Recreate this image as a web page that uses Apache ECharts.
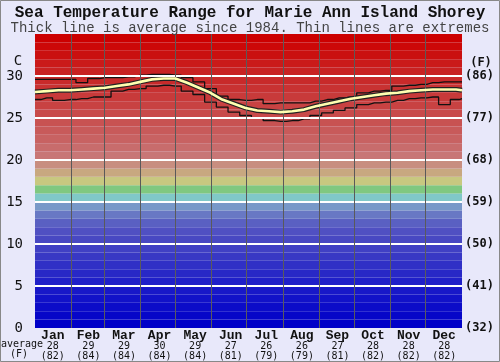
<!DOCTYPE html>
<html>
<head>
<meta charset="utf-8">
<script src="https://cdn.jsdelivr.net/npm/echarts@6/dist/echarts.min.js"></script>
<style>
html,body{margin:0;padding:0;background:#e8e8fa;}
#c{width:500px;height:362px;}
</style>
</head>
<body>
<div id="c"></div>
<script>
// ---- data ----
const days  = [0,10,20,30,40,50,60,70,80,90,100,110,120,130,140,150,160,170,180,190,200,210,220,230,240,250,260,270,280,290,300,310,320,330,340,350,360,365];
const maxC  = [29.6,29.6,29.6,29.6,29.2,29.7,29.8,29.8,29.9,30.1,30.2,30.2,30.1,29.8,29.3,28.5,27.6,27.2,27.1,27.2,26.7,26.8,26.8,26.8,27.0,27.2,27.4,27.5,28.0,28.2,28.3,28.8,28.9,29.0,29.2,29.3,29.3,29.3];
const avgC  = [28.1,28.2,28.3,28.3,28.4,28.5,28.6,28.8,29.0,29.3,29.6,29.7,29.7,29.2,28.6,28.0,27.2,26.7,26.2,25.9,25.8,25.7,25.8,26.0,26.4,26.7,27.0,27.3,27.5,27.7,27.9,28.0,28.2,28.3,28.4,28.4,28.4,28.3];
const minC  = [27.2,27.4,27.1,27.2,27.3,27.5,27.5,28.2,28.4,28.5,28.8,28.9,28.8,28.2,27.8,26.9,26.3,25.7,25.3,25.0,24.7,24.6,24.7,24.9,25.3,25.6,25.9,26.2,26.6,26.8,26.9,27.1,27.3,27.4,27.5,26.6,27.2,27.3];
const months = ['Jan','Feb','Mar','Apr','May','Jun','Jul','Aug','Sep','Oct','Nov','Dec'];
const monthAvgC = [28,29,29,30,29,27,26,26,27,28,28,28];
const monthAvgF = [82,84,84,84,84,81,79,79,81,82,82,82];
const monthStartDays = [31,59,90,120,151,181,212,243,273,304,334];
const yTicksC = [0,5,10,15,20,25,30];
const yTicksF = ['(32)','(41)','(50)','(59)','(68)','(77)','(86)'];

// ---- styles ----
const bandColors = [
 '#0000c8','#0606c8','#0c0cc8','#1212c8','#1818c8','#2020c8','#2828c6','#3030c6','#3838c4','#4040c4',
 '#4848c2','#5050c2','#5a60c2','#6878c4','#7898c8','#80c8c8','#80c880','#c8c880','#c8a880','#c88e80',
 '#c87676','#c86c6c','#c86262','#c85a5a','#c85252','#c84a4a','#c84242','#c83a3a','#c83232','#c82a2a',
 '#c82222','#ca1a1a','#ca1010','#cc0808','#cc0000'];

const pair = (xs, ys) => xs.map((d,i)=>[d, ys[i]]);
const mono = 'DejaVu Sans Mono';
const cour = 'Liberation Mono';

const chart = echarts.init(document.getElementById('c'), null, {renderer:'canvas'});
chart.setOption({
  animation:false,
  backgroundColor:'#e8e8fa',
  grid:{left:35,right:38,top:34,bottom:34},
  title:[
    {text:'Sea Temperature Range for Marie Ann Island Shorey',left:'center',top:4,padding:0,
     textStyle:{fontFamily:cour,fontWeight:'bold',fontSize:16,color:'#111',lineHeight:18}},
    {text:'Thick line is average since 1984. Thin lines are extremes',left:'center',top:20,padding:0,
     textStyle:{fontFamily:cour,fontWeight:'normal',fontSize:14,color:'#444',lineHeight:16}}
  ],
  xAxis:[
    {type:'value',min:0,max:365,show:false},
    {type:'category',data:months,position:'bottom',boundaryGap:true,
     axisLine:{show:false},axisTick:{show:false},splitLine:{show:false},
     axisLabel:{interval:0,margin:2,
       formatter:(v,i)=>'{m|'+v+'}\n{n|'+monthAvgC[i]+'}\n{n|('+monthAvgF[i]+')}',
       rich:{m:{fontFamily:cour,fontWeight:'bold',fontSize:13,lineHeight:11,color:'#111'},
             n:{fontFamily:mono,fontSize:10,lineHeight:10,color:'#111'}}}}
  ],
  yAxis:[
    {type:'value',min:0,max:35,interval:5,position:'left',
     axisLine:{show:false},axisTick:{show:false},splitLine:{show:false},
     axisLabel:{margin:12,fontFamily:mono,fontSize:14,color:'#111',
       formatter:v=>{const i=yTicksC.indexOf(v);return i<0?'':String(yTicksC[i]);}}},
    {type:'value',min:0,max:35,interval:5,position:'right',
     axisLine:{show:false},axisTick:{show:false},splitLine:{show:false},
     axisLabel:{margin:3,fontFamily:mono,fontWeight:'bold',fontSize:12,color:'#111',
       formatter:v=>{const i=yTicksC.indexOf(v);return i<0?'':yTicksF[i];}}}
  ],
  series:[
    {type:'line',z:1,data:pair(days,avgC),showSymbol:false,lineStyle:{opacity:0},silent:true,
     markArea:{silent:true,data:bandColors.map((c,i)=>[{yAxis:i,itemStyle:{color:c}},{yAxis:i+1}])}},
    {type:'line',z:2,data:[],silent:true,
     markLine:{silent:true,symbol:'none',label:{show:false},animation:false,
       data:[
         ...yTicksC.filter(v=>v>0).map(v=>({yAxis:v,lineStyle:{color:'#ffffff',width:2,type:'solid'}})),
         ...monthStartDays.map(d=>({xAxis:d,lineStyle:{color:'#5a5a5a',width:1,type:'solid'}}))
       ]}},
    {type:'line',z:3,data:pair(days,maxC),showSymbol:false,step:'middle',lineStyle:{color:'#111',width:1.3}},
    {type:'line',z:3,data:pair(days,minC),showSymbol:false,step:'middle',lineStyle:{color:'#111',width:1.3}},
    {type:'line',z:4,data:pair(days,avgC),showSymbol:false,lineStyle:{color:'#222',width:5}},
    {type:'line',z:5,data:pair(days,avgC),showSymbol:false,lineStyle:{color:'#ffffb0',width:2.6}}
  ],
  graphic:[
    {type:'rect',shape:{x:0.5,y:0.5,width:499,height:361},style:{fill:'none',stroke:'#888',lineWidth:1},silent:true,z:100},
    {type:'text',x:18,y:61,style:{text:'C',font:'14px "'+mono+'"',fill:'#111',align:'center',verticalAlign:'middle'}},
    {type:'text',x:481,y:63,style:{text:'(F)',font:'bold 12px "'+mono+'"',fill:'#111',align:'center',verticalAlign:'middle'}},
    {type:'text',x:22,y:344,style:{text:'average',font:'10px "'+mono+'"',fill:'#111',align:'center',verticalAlign:'middle'}},
    {type:'text',x:19,y:354,style:{text:'(F)',font:'10px "'+mono+'"',fill:'#111',align:'center',verticalAlign:'middle'}}
  ]
});
</script>
</body>
</html>
